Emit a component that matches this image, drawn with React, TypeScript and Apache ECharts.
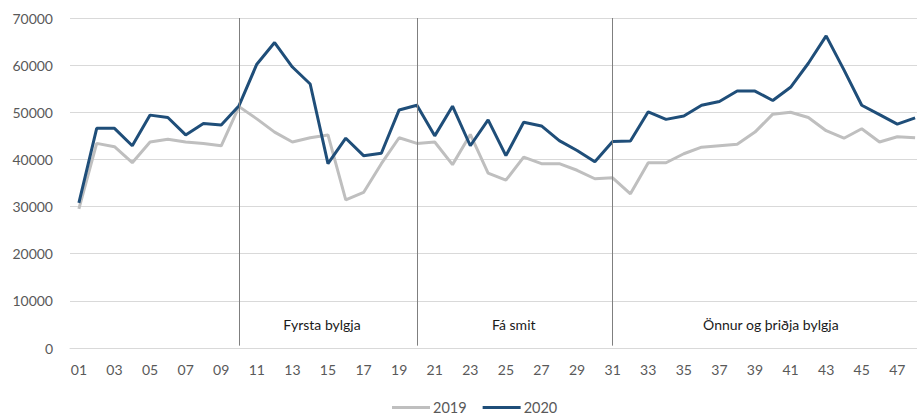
import React, { useEffect, useRef } from "react";
import * as echarts from "echarts";

const weeks: string[] = [
  "01","02","03","04","05","06","07","08","09","10",
  "11","12","13","14","15","16","17","18","19","20",
  "21","22","23","24","25","26","27","28","29","30",
  "31","32","33","34","35","36","37","38","39","40",
  "41","42","43","44","45","46","47","48",
];

const values2019: number[] = [
  29500, 43400, 42700, 39300, 43700, 44300, 43700, 43400, 42900, 51200,
  48600, 45800, 43700, 44600, 45200, 31400, 33000, 39100, 44600, 43400,
  43700, 38900, 45300, 37100, 35600, 40500, 39100, 39100, 37700, 35900,
  36100, 32700, 39300, 39300, 41200, 42600, 42900, 43200, 45800, 49600,
  50000, 48900, 46100, 44500, 46500, 43700, 44800, 44600,
];

const values2020: number[] = [
  30800, 46600, 46600, 42900, 49400, 48900, 45200, 47600, 47300, 51400,
  60200, 64800, 59600, 56000, 39100, 44500, 40800, 41300, 50500, 51500,
  45000, 51300, 42900, 48400, 40800, 47900, 47100, 44000, 41900, 39500,
  43800, 43900, 50100, 48500, 49200, 51500, 52300, 54500, 54500, 52500,
  55300, 60400, 66200, 59000, 51500, 49500, 47500, 48800,
];

const periodBreaks: string[] = ["10", "20", "31"];
const periods: { label: string; from: string; to: string; shift: number }[] = [
  { label: "Fyrsta bylgja", from: "10", to: "20", shift: -6 },
  { label: "Fá smit", from: "20", to: "31", shift: -1 },
  { label: "Önnur og þriðja bylgja", from: "31", to: "48", shift: 7 },
];

const yTicks = { min: 0, max: 70000, interval: 10000 };

const FONT = "Lato, 'Open Sans', sans-serif";

export default function App() {
  const ref = useRef<HTMLDivElement>(null);
  useEffect(() => {
    document.body.style.margin = "0";
    document.body.style.overflow = "hidden";
    if (!ref.current) return;
    const chart = echarts.init(ref.current, undefined, { renderer: "svg" });
    chart.setOption({
      animation: false,
      textStyle: { fontFamily: FONT },
      grid: { left: 70, top: 18, bottom: 68, right: 0 },
      legend: {
        left: 392,
        top: 400,
        padding: 0,
        icon: "rect",
        itemWidth: 38,
        itemHeight: 3,
        itemGap: 16,
        textStyle: {
          color: "#595959",
          fontSize: 14.5,
          lineHeight: 15,
          fontFamily: FONT,
          padding: [0, 0, 0, -2],
        },
        data: ["2019", "2020"],
      },
      xAxis: {
        type: "category",
        data: weeks,
        boundaryGap: true,
        axisLine: { show: true, lineStyle: { color: "#d9d9d9", width: 1 } },
        axisTick: { show: false },
        axisLabel: { interval: 1, color: "#595959", fontSize: 14, margin: 14, fontFamily: FONT },
        splitLine: { show: false },
      },
      yAxis: {
        type: "value",
        min: yTicks.min,
        max: yTicks.max,
        interval: yTicks.interval,
        axisLine: { show: false },
        axisTick: { show: false },
        axisLabel: {
          color: "#595959",
          fontSize: 14,
          margin: 17,
          fontFamily: FONT,
          formatter: (v: number) => String(v),
        },
        splitLine: { lineStyle: { color: "#d9d9d9", width: 1 } },
      },
      series: [
        {
          name: "2019",
          type: "line",
          data: values2019,
          symbol: "none",
          lineStyle: { color: "#bfbfbf", width: 3 },
          itemStyle: { color: "#bfbfbf" },
          z: 2,
          markArea: {
            silent: true,
            itemStyle: { color: "rgba(0,0,0,0)" },
            label: {
              position: "insideBottom",
              distance: 17,
              color: "#1a1a1a",
              fontSize: 14,
              fontFamily: FONT,
            },
            data: periods.map((p) => [
              { xAxis: p.from, name: p.label, label: { offset: [p.shift, 0] } },
              { xAxis: p.to },
            ]),
          },
        },
        {
          name: "2020",
          type: "line",
          data: values2020,
          symbol: "none",
          lineStyle: { color: "#1f4e79", width: 3 },
          itemStyle: { color: "#1f4e79" },
          z: 3,
          markLine: {
            silent: true,
            symbol: "none",
            label: { show: false },
            lineStyle: { color: "#7f7f7f", width: 1, type: "solid" },
            data: periodBreaks.map((w) => [
              { coord: [w, 70000] },
              { coord: [w, 500] },
            ]),
          },
        },
      ],
    });
    return () => chart.dispose();
  }, []);
  return (
    <div style={{ width: 917, height: 416, overflow: "hidden", position: "relative" }}>
      <div ref={ref} style={{ width: 924, height: 416 }} />
    </div>
  );
}
